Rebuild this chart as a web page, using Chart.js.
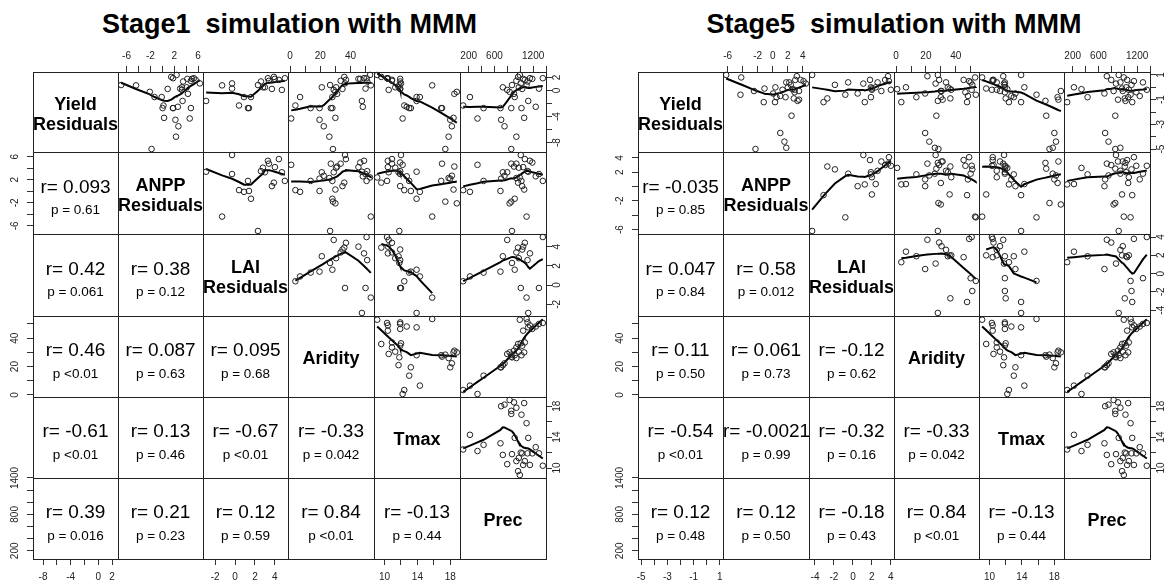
<!DOCTYPE html>
<html>
<head>
<meta charset="utf-8">
<script src="https://cdn.jsdelivr.net/npm/chart.js@4.4.1/dist/chart.umd.min.js"></script>
<style>
  body { margin: 0; background: #fff; }
  #page { position: relative; width: 1172px; height: 585px; overflow: hidden; font-family: Arial, "Liberation Sans", sans-serif; color: #000; }
  #page canvas { position: absolute; }
  .title { position: absolute; top: 9px; font-weight: bold; font-size: 27px; white-space: pre; transform: translateX(-50%); }
  .diag { position: absolute; display: flex; align-items: center; justify-content: center; text-align: center; box-sizing: border-box;
          padding-top: 3px; font-weight: bold; font-size: 18px; line-height: 20px; white-space: pre; }
  .cor { position: absolute; }
  .cor .r { position: absolute; left: 0; right: 0; text-align: center; font-size: 19px; line-height: 22px; white-space: pre; }
  .cor .p { position: absolute; left: 0; right: 0; text-align: center; font-size: 13.5px; line-height: 16px; white-space: pre; }
</style>
</head>
<body>
<div id="page"></div>
<script>
// ---- data: one entry per site ----
const prec    = [115,220,337,431,693,704,730,756,798,835,861,861,872,903,914,940,940,966,977,993,1008,1019,1030,1045,1061,1071,1098,1113,1124,1150,1187,1240,1350,1290]
const aridity = [3.5,6.6,0.7,13.6,19.5,19.5,21.0,22.3,28.9,30.0,27.0,28.4,26.5,31.2,28.0,33.5,26.0,35.9,30.5,53.0,36.4,28.0,34.7,45.3,30.0,37.0,53.5,51.1,47.6,49.0,46.5,48.2,50.7,50.0]
const tmax    = [12.4,14.3,12.2,13.0,13.2,18.0,11.7,18.2,10.5,18.8,17.0,17.4,11.8,18.5,13.9,10.9,17.8,9.6,11.3,9.1,12.0,16.9,11.9,10.4,18.4,10.9,15.8,11.9,13.9,10.4,11.9,12.7,10.3,11.9]

// stage 1 residuals
const yield1 = [-2.3,-1.0,-4.3,-2.7,-2.7,-4.5,0.5,-5.5,0.1,-0.2,-2.7,-9.0,0.85,-0.5,-1.0,1.5,-7.1,2.1,0.5,2.4,1.1,-2.7,0.25,1.8,-4.2,1.65,0.8,1.4,-1.6,1.9,1.8,-2.5,1.9,0.3]
const anpp1  = [0.2,-0.1,4.6,1.8,0.05,2.2,3.3,2.7,3.3,-2.1,4.8,-1.8,-6.9,4.3,-1.3,4.8,2.3,1.5,4.1,2.4,6.3,1.8,0.9,4.2,0.3,5.6,-4.4,3.5,3.4,5.3,5.0,2.6,1.8,3.0]
const lai1   = [0.4,0.9,null,1.3,1.4,null,3.0,null,4.7,null,null,null,2.3,null,1.6,3.4,null,3.9,2.8,null,-0.3,null,3.7,4.0,null,4.4,-1.3,2.6,-2.9,3.3,null,null,5.0,-0.3]

// stage 5 residuals
const yield5 = [-1.2,0.0,-0.15,-0.8,-0.5,-3.7,0.9,-4.4,0.6,-0.3,-2.3,-5.0,0.3,-1.0,1.0,0.4,-4.9,-0.1,-0.3,0.8,-0.9,-1.1,0.0,0.6,-0.8,-0.2,-0.6,0.2,-1.2,0.5,-0.4,-0.7,-0.2,0.4]
const anpp5  = [0.3,0.35,2.6,1.7,0.05,1.0,3.2,1.55,3.0,-2.5,2.5,-2.3,4.4,3.5,-6.2,2.2,1.8,-1.1,3.5,-4.2,2.8,3.3,2.0,3.7,0.5,1.3,-4.3,2.4,-1.2,4.1,2.9,1.0,2.9,1.8]
const lai5   = [1.25,2.4,null,1.9,0.5,null,3.7,null,3.4,null,null,null,1.1,null,-4.3,2.6,null,2.0,3.0,null,-2.7,null,1.9,1.8,null,2.0,-0.8,-1.9,-3.1,3.8,null,null,4.0,-0.5]

// diagonal names
const varNames = ['Yield\nResiduals','ANPP\nResiduals','LAI\nResiduals','Aridity','Tmax','Prec']

// lower panels, order (1,0) (2,0) (2,1) (3,0) (3,1) (3,2) (4,0) ... (5,4)
const corr1 = ['0.093','0.42','0.38','0.46','0.087','0.095','-0.61','0.13','-0.67','-0.33','0.39','0.21','0.12','0.84','-0.13']
const pval1 = ['= 0.61','= 0.061','= 0.12','<0.01','= 0.63','= 0.68','<0.01','= 0.46','<0.01','= 0.042','= 0.016','= 0.23','= 0.59','<0.01','= 0.44']
const corr5 = ['-0.035','0.047','0.58','0.11','0.061','-0.12','-0.54','-0.0021','-0.32','-0.33','0.12','0.12','-0.18','0.84','-0.13']
const pval5 = ['= 0.85','= 0.84','= 0.012','= 0.50','= 0.73','= 0.62','<0.01','= 0.99','= 0.16','= 0.042','= 0.48','= 0.50','= 0.43','<0.01','= 0.44']

// tick positions and the ones that carry a label (outer x axis / outer y axis)
const ticksYield1 = [-8,-6,-4,-2,0,2],        labYield1 = [-8,-4,0,2]
const ticksAnpp1  = [-6,-4,-2,0,2,4,6],       labAnpp1  = [-6,-2,2,6]
const ticksLai1   = [-2,0,2,4],               labLai1   = [-2,0,2,4]
const ticksYield5 = [-5,-4,-3,-2,-1,0,1],     labYield5 = [-5,-3,-1,1]
const ticksAnpp5  = [-6,-4,-2,0,2,4],         labAnpp5x = [-6,-2,0,2,4], labAnpp5y = [-6,-2,2,4]
const ticksLai5   = [-4,-2,0,2,4],            labLai5   = [-4,-2,0,2,4]
const ticksArid   = [0,10,20,30,40,50],       labArid   = [0,20,40]
const ticksTmax   = [10,12,14,16,18],         labTmax   = [10,14,18]
const ticksPrec   = [200,400,600,800,1000,1200,1400], labPrecX = [200,600,1200], labPrecY = [200,800,1400]

// ---- layout ----
const rowsY = [72,152,234,316,397,478,559]
const AX = 30, M = 12
const FONT = 'Arial, "Liberation Sans", sans-serif'

const stages = [
  { title: 'Stage1  simulation with MMM', colX: [33,118,203,288,374,460,546], corr: corr1, pval: pval1,
    vars: [
      { v: yield1, ticks: ticksYield1, xl: labYield1, yl: labYield1 },
      { v: anpp1,  ticks: ticksAnpp1,  xl: labAnpp1,  yl: labAnpp1 },
      { v: lai1,   ticks: ticksLai1,   xl: labLai1,   yl: labLai1 },
      { v: aridity, ticks: ticksArid,  xl: labArid,   yl: labArid },
      { v: tmax,   ticks: ticksTmax,   xl: labTmax,   yl: labTmax },
      { v: prec,   ticks: ticksPrec,   xl: labPrecX,  yl: labPrecY } ] },
  { title: 'Stage5  simulation with MMM', colX: [638,723,809,894,979,1064,1150], corr: corr5, pval: pval5,
    vars: [
      { v: yield5, ticks: ticksYield5, xl: labYield5, yl: labYield5 },
      { v: anpp5,  ticks: ticksAnpp5,  xl: labAnpp5x, yl: labAnpp5y },
      { v: lai5,   ticks: ticksLai5,   xl: labLai5,   yl: labLai5 },
      { v: aridity, ticks: ticksArid,  xl: labArid,   yl: labArid },
      { v: tmax,   ticks: ticksTmax,   xl: labTmax,   yl: labTmax },
      { v: prec,   ticks: ticksPrec,   xl: labPrecX,  yl: labPrecY } ] }
]

// R style range: data range widened by 4% on each side
function rng(vals){
  const v = vals.filter(a => a !== null)
  const lo = Math.min(...v), hi = Math.max(...v), d = (hi - lo) * 0.04
  return [lo - d, hi + d]
}

// port of R's clowess (no delta skipping)
function lowess(xIn, yIn, f = 2/3, iter = 3){
  const ord = xIn.map((_, i) => i).sort((a, b) => xIn[a] - xIn[b])
  const x = ord.map(i => xIn[i]), y = ord.map(i => yIn[i])
  const n = x.length
  const ns = Math.max(2, Math.min(n, Math.floor(f * n + 1e-7)))
  const range = x[n-1] - x[0]
  const ys = new Array(n).fill(0), rw = new Array(n).fill(1), w = new Array(n).fill(0)
  for (let it = 1; it <= iter + 1; it++){
    let nleft = 0, nright = ns - 1
    for (let i = 0; i < n; i++){
      while (nright < n - 1 && x[i] - x[nleft] > x[nright+1] - x[i]){ nleft++; nright++ }
      const h = Math.max(x[i] - x[nleft], x[nright] - x[i])
      const h9 = 0.999 * h, h1 = 0.001 * h
      let a = 0, j = nleft
      for (; j < n; j++){
        w[j] = 0
        const r = Math.abs(x[j] - x[i])
        if (r <= h9){
          w[j] = r <= h1 ? 1 : Math.pow(1 - Math.pow(r / h, 3), 3)
          if (it > 1) w[j] *= rw[j]
          a += w[j]
        } else if (x[j] > x[i]) break
      }
      const nrt = j - 1
      if (a <= 0){ ys[i] = y[i]; continue }
      for (let k = nleft; k <= nrt; k++) w[k] /= a
      if (h > 0){
        let xm = 0
        for (let k = nleft; k <= nrt; k++) xm += w[k] * x[k]
        let b = x[i] - xm, c = 0
        for (let k = nleft; k <= nrt; k++) c += w[k] * (x[k] - xm) * (x[k] - xm)
        if (Math.sqrt(c) > 0.001 * range){
          b /= c
          for (let k = nleft; k <= nrt; k++) w[k] *= (b * (x[k] - xm) + 1)
        }
      }
      let s = 0
      for (let k = nleft; k <= nrt; k++) s += w[k] * y[k]
      ys[i] = s
    }
    if (it > iter) break
    const res = y.map((v, i) => v - ys[i])
    const sc = res.reduce((s, v) => s + Math.abs(v), 0) / n
    const ar = res.map(Math.abs).sort((p, q) => p - q)
    const med = n % 2 ? ar[(n-1)/2] : (ar[n/2-1] + ar[n/2]) / 2
    const cmad = 6 * med
    if (cmad < 1e-7 * sc) break
    const c9 = 0.999 * cmad, c1 = 0.001 * cmad
    res.forEach((r, i) => {
      const ra = Math.abs(r)
      rw[i] = ra <= c1 ? 1 : ra <= c9 ? Math.pow(1 - Math.pow(r / cmad, 2), 2) : 0
    })
  }
  return x.map((v, i) => ({ x: v, y: ys[i] }))
}

// panel box + rotated y labels (R writes them along the axis)
const panelPlugin = {
  id: 'panel',
  afterDraw(chart, args, opts){
    const { ctx, chartArea: a } = chart
    ctx.save()
    ctx.strokeStyle = '#222'
    ctx.lineWidth = 1
    ctx.strokeRect(a.left + 0.5, a.top + 0.5, a.right - a.left, a.bottom - a.top)
    if (opts.side){
      const s = chart.scales.y
      ctx.fillStyle = '#222'
      ctx.font = '10px ' + FONT
      ctx.textAlign = 'center'
      ctx.textBaseline = 'middle'
      const x = opts.side === 'left' ? a.left - 18 : a.right + 11
      opts.labels.forEach(v => {
        ctx.save()
        ctx.translate(x, s.getPixelForValue(v))
        ctx.rotate(-Math.PI / 2)
        ctx.fillText(String(v), 0, 0)
        ctx.restore()
      })
    }
    ctx.restore()
  }
}

const page = document.getElementById('page')

function addDiv(cls, x, y, w, h, html){
  const d = document.createElement('div')
  d.className = cls
  Object.assign(d.style, { left: x + 'px', top: y + 'px', width: w + 'px', height: h + 'px' })
  if (html !== undefined) d.textContent = html
  page.appendChild(d)
  return d
}

function drawStage(st){
  const t = document.createElement('div')
  t.className = 'title'
  t.textContent = st.title
  t.style.left = ((st.colX[0] + st.colX[6]) / 2) + 'px'
  page.appendChild(t)

  const ranges = st.vars.map(v => rng(v.v))
  let lowerIdx = 0
  const lowerMap = {}
  for (let i = 1; i < 6; i++) for (let j = 0; j < i; j++) lowerMap[i + ',' + j] = lowerIdx++

  for (let i = 0; i < 6; i++){
    for (let j = 0; j < 6; j++){
      const X = st.vars[j], Y = st.vars[i]
      const cx = st.colX[j], cy = rowsY[i]
      const cw = st.colX[j+1] - cx, ch = rowsY[i+1] - cy
      const top = i === 0 && j % 2 === 1
      const bottom = i === 5 && j % 2 === 0
      const left = j === 0 && i % 2 === 1
      const right = j === 5 && i % 2 === 0
      const showX = top || bottom, showY = left || right

      const cv = document.createElement('canvas')
      const W = cw + 2 * M + (showY ? AX : 0)
      const H = ch + 2 * M + (showX ? AX : 0)
      cv.width = W; cv.height = H
      cv.style.width = W + 'px'; cv.style.height = H + 'px'
      cv.style.left = (cx - M - (left ? AX : 0)) + 'px'
      cv.style.top = (cy - M - (top ? AX : 0)) + 'px'
      page.appendChild(cv)

      const datasets = []
      if (j > i){
        const pts = []
        X.v.forEach((xv, k) => { const yv = Y.v[k]; if (xv !== null && yv !== null) pts.push({ x: xv, y: yv }) })
        datasets.push({ type: 'scatter', data: pts, pointRadius: 2.8, borderWidth: 1,
          borderColor: '#222', backgroundColor: 'rgba(0,0,0,0)', clip: 3 })
        datasets.push({ type: 'line', data: lowess(pts.map(p => p.x), pts.map(p => p.y)),
          borderColor: '#000', borderWidth: 2, pointRadius: 0, tension: 0, fill: false, clip: 0 })
      }

      const tickGrid = { drawOnChartArea: false, drawTicks: true, tickLength: 6, color: '#333', lineWidth: 1 }
      new Chart(cv, {
        type: 'scatter',
        data: { datasets },
        plugins: [panelPlugin],
        options: {
          responsive: false, maintainAspectRatio: false, animation: false, events: [],
          layout: { padding: M },
          plugins: { legend: { display: false }, tooltip: { enabled: false },
            panel: showY ? { side: left ? 'left' : 'right', labels: Y.yl } : {} },
          scales: {
            x: { type: 'linear', min: ranges[j][0], max: ranges[j][1],
              display: showX, position: top ? 'top' : 'bottom',
              afterBuildTicks: s => { s.ticks = X.ticks.map(v => ({ value: v })) },
              afterFit: s => { s.height = showX ? AX : 0 },
              grid: tickGrid, border: { display: false },
              ticks: { autoSkip: false, maxRotation: 0, minRotation: 0, padding: top ? 4 : 6, color: '#222',
                font: { size: 10, family: FONT },
                callback: v => X.xl.includes(v) ? String(v) : '' } },
            y: { type: 'linear', min: ranges[i][0], max: ranges[i][1],
              display: showY, position: left ? 'left' : 'right',
              afterBuildTicks: s => { s.ticks = Y.ticks.map(v => ({ value: v })) },
              afterFit: s => { s.width = showY ? AX : 0 },
              grid: tickGrid, border: { display: false },
              ticks: { display: false } }
          }
        }
      })

      if (i === j){
        addDiv('diag', cx, cy, cw, ch, varNames[i])
      } else if (i > j){
        const k = lowerMap[i + ',' + j]
        const box = addDiv('cor', cx, cy, cw, ch)
        const r = document.createElement('div')
        r.className = 'r'; r.textContent = 'r= ' + st.corr[k]; r.style.top = (ch / 2 - 17.5) + 'px'
        const p = document.createElement('div')
        p.className = 'p'; p.textContent = 'p ' + st.pval[k]; p.style.top = (ch / 2 + 9) + 'px'
        box.appendChild(r); box.appendChild(p)
      }
    }
  }
}

stages.forEach(drawStage)
</script>
</body>
</html>
